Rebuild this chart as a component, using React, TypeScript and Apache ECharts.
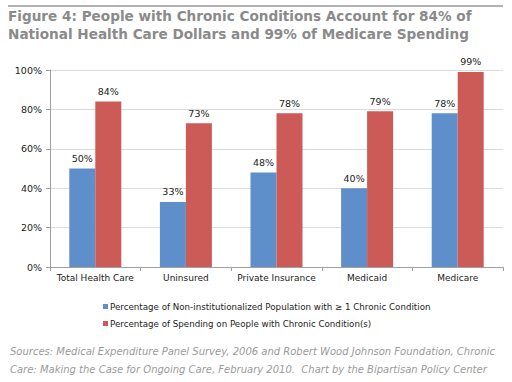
import React, { useEffect, useRef } from "react";
import * as echarts from "echarts";

const categories = ["Total Health Care", "Uninsured", "Private Insurance", "Medicaid", "Medicare"];
const populationPct = [50, 33, 48, 40, 78];
const spendingPct = [84, 73, 78, 79, 99];
const seriesNames = [
  "Percentage of Non-institutionalized Population with \u2265 1 Chronic Condition",
  "Percentage of Spending on People with Chronic Condition(s)",
];
const titleLines = [
  "Figure 4: People with Chronic Conditions Account for 84% of",
  "National Health Care Dollars and 99% of Medicare Spending",
];
const sourceLines = [
  "Sources: Medical Expenditure Panel Survey, 2006 and Robert Wood Johnson Foundation, Chronic",
  "Care: Making the Case for Ongoing Care, February 2010.  Chart by the Bipartisan Policy Center",
];

const FONT = "DejaVu Sans, Verdana, sans-serif";

export default function App() {
  const ref = useRef<HTMLDivElement>(null);
  useEffect(() => {
    if (!ref.current) return;
    const chart = echarts.init(ref.current, undefined, { renderer: "svg" });
    const label = {
      show: true,
      position: "top" as const,
      distance: 5,
      formatter: "{c}%",
      color: "#222",
      fontSize: 9.5,
      fontFamily: FONT,
    };
    chart.setOption({
      animation: false,
      backgroundColor: "#ffffff",
      textStyle: { fontFamily: FONT },
      grid: { left: 50, right: 9, top: 70, bottom: 115, containLabel: false },
      graphic: [
        { type: "line", shape: { x1: 8, y1: 6, x2: 503, y2: 6 }, style: { stroke: "#999", lineWidth: 1.5 } },
        ...titleLines.map((t, i) => ({
          type: "text",
          left: 8,
          top: 9 + i * 18,
          style: { text: t, fill: "#8a8a8a", font: `bold 13.6px ${FONT}` },
        })),
        ...sourceLines.map((t, i) => ({
          type: "text",
          left: 10,
          top: 346 + i * 18,
          style: { text: t, fill: "#9a9a9a", font: `italic 10px ${FONT}` },
        })),
      ],
      legend: {
        orient: "vertical",
        left: 98,
        top: 297,
        itemWidth: 5,
        itemHeight: 5,
        itemGap: 8,
        icon: "rect",
        textStyle: { fontSize: 8.7, color: "#222", fontFamily: FONT, padding: [0, 0, 0, -3] },
        data: seriesNames,
      },
      xAxis: {
        type: "category",
        data: categories,
        axisLine: { lineStyle: { color: "#a0a0a0" } },
        axisTick: { show: true, alignWithLabel: false, length: 4, lineStyle: { color: "#a0a0a0" } },
        axisLabel: { interval: 0, color: "#222", fontSize: 9, fontFamily: FONT, margin: 6 },
      },
      yAxis: {
        type: "value",
        min: 0,
        max: 100,
        interval: 20,
        axisLine: { show: true, lineStyle: { color: "#a0a0a0" } },
        axisTick: { show: true, length: 4, lineStyle: { color: "#a0a0a0" } },
        axisLabel: { formatter: "{value}%", color: "#222", fontSize: 9.5, fontFamily: FONT, margin: 8 },
        splitLine: { lineStyle: { color: "#dcdcdc" } },
      },
      series: [
        {
          name: seriesNames[0],
          type: "bar",
          data: populationPct,
          barWidth: 26,
          barGap: "0%",
          itemStyle: { color: "#5f8fca" },
          label,
        },
        {
          name: seriesNames[1],
          type: "bar",
          data: spendingPct,
          barWidth: 26,
          barGap: "0%",
          itemStyle: { color: "#cc5b58" },
          label,
        },
      ],
    });
    return () => chart.dispose();
  }, []);
  return <div ref={ref} style={{ width: 512, height: 382, position: "absolute", left: 0, top: 0 }} />;
}
